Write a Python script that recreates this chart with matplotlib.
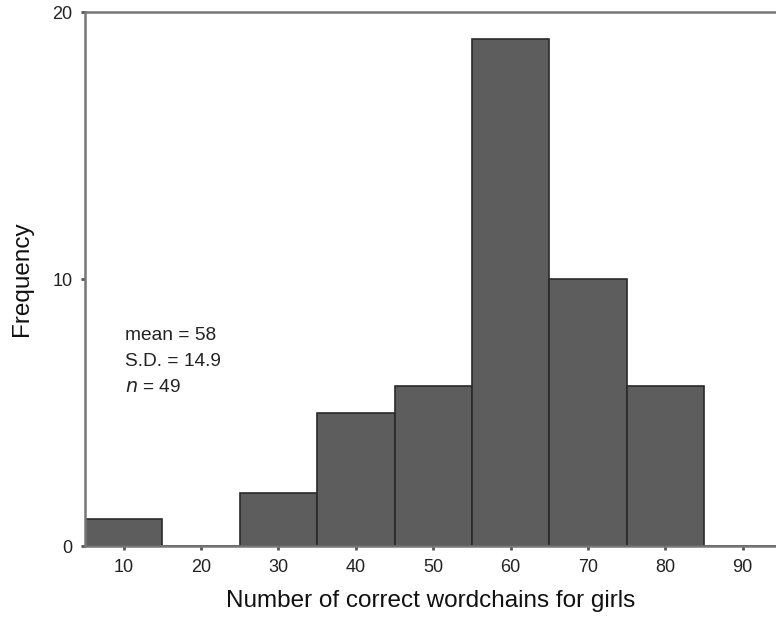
import matplotlib
matplotlib.use("Agg")
import matplotlib.pyplot as plt

# histogram of correct wordchains (girls), bins of width 10
bin_centres = [10, 20, 30, 40, 50, 60, 70, 80, 90]
counts = [1, 0, 2, 5, 6, 19, 10, 6, 0]
y_ticks = [0, 10, 20]
stats_lines = ["mean = 58", "S.D. = 14.9", "$\\it{n}$ = 49"]

plt.rcParams['font.family'] = ['Liberation Sans', 'DejaVu Sans']

fig = plt.figure(figsize=(7.76, 6.44), dpi=100)
ax = fig.add_axes([0.1095, 0.152, 0.8905, 0.829])

ax.bar(bin_centres, counts, width=10, color="#5d5d5d", edgecolor="#2a2a2a", linewidth=1.2)

ax.set_xlim(5, 94.3)
ax.set_ylim(0, 20)
ax.set_xticks(bin_centres)
ax.set_yticks(y_ticks)
ax.tick_params(axis="both", labelsize=13, length=3, width=2, color="#555555", pad=6, labelcolor="#222222")

for side in ["left", "bottom", "top"]:
    ax.spines[side].set_color("#777777")
    ax.spines[side].set_linewidth(1.8)
ax.spines["right"].set_visible(False)

ax.set_ylabel("Frequency", fontsize=17.5, labelpad=14, color="#111111")
ax.set_xlabel("Number of correct wordchains for girls", fontsize=17.5, labelpad=10, color="#111111")

for i, line in enumerate(stats_lines):
    ax.text(0.058, 0.395 - i * 0.049, line, transform=ax.transAxes, fontsize=13.8,
            va="center", color="#222222")

fig.savefig("out.png", dpi=100)
